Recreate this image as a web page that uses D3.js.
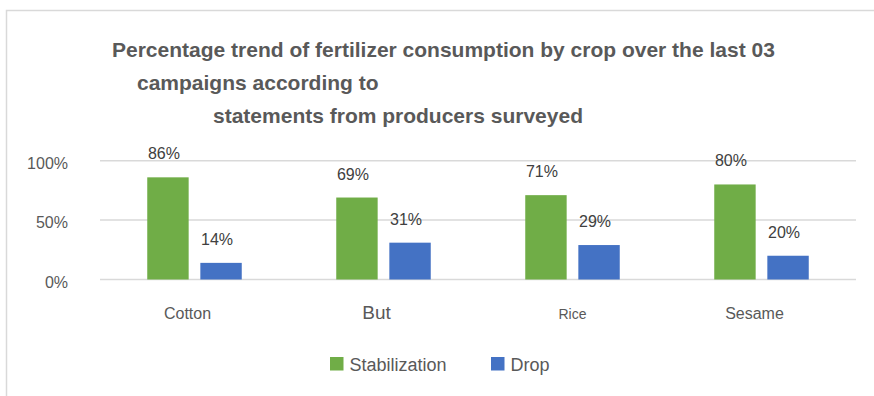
<!DOCTYPE html>
<html>
<head>
<meta charset="utf-8">
<script src="https://cdn.jsdelivr.net/npm/d3@7"></script>
<style>
  html, body { margin: 0; padding: 0; background: #fff; }
  svg { display: block; font-family: "Liberation Sans", Arial, sans-serif; }
</style>
</head>
<body>
<div id="chart"></div>
<script>
// chart values
var crops = ["Cotton", "But", "Rice", "Sesame"];
var seriesNames = ["Stabilization", "Drop"];
var stabilization = [86, 69, 71, 80];
var drop = [14, 31, 29, 20];
var yTicks = [0, 50, 100];
var titleLines = [
  "Percentage trend of fertilizer consumption by crop over the last 03",
  "campaigns according to",
  "statements from producers surveyed"
];

var width = 874, height = 396;
var colors = { "Stabilization": "#70ad47", "Drop": "#4472c4" };
// the source chart uses an uneven font size for each category label
var catSize = { "Cotton": 16, "But": 19, "Rice": 14, "Sesame": 16 };

var svg = d3.select("#chart").append("svg")
  .attr("width", width)
  .attr("height", height);

// chart area frame
svg.append("rect")
  .attr("x", 6.5).attr("y", 10.5)
  .attr("width", width + 10).attr("height", height + 10)
  .attr("fill", "#fff")
  .attr("stroke", "#d9d9d9")
  .attr("stroke-width", 1.5);

// title
var titleX = [112, 137, 213];
svg.append("g").selectAll("text")
  .data(titleLines)
  .enter().append("text")
    .attr("x", function(d, i) { return titleX[i]; })
    .attr("y", function(d, i) { return 56.5 + i * 33.2; })
    .attr("font-size", 21)
    .attr("font-weight", "bold")
    .attr("fill", "#595959")
    .text(function(d) { return d; });

var x0 = d3.scaleBand()
  .domain(crops)
  .range([100, 856])
  .paddingInner(0.5)
  .paddingOuter(0.25);

var x1 = d3.scaleBand()
  .domain(seriesNames)
  .range([0, x0.bandwidth()])
  .paddingInner(0.22);

var y = d3.scaleLinear()
  .domain([0, 100])
  .range([279.5, 160.7]);

// gridlines
svg.append("g").selectAll("line")
  .data(yTicks)
  .enter().append("line")
    .attr("x1", 100).attr("x2", 856)
    .attr("y1", function(d) { return y(d); })
    .attr("y2", function(d) { return y(d); })
    .attr("stroke", "#d9d9d9")
    .attr("stroke-width", 1.5);

// y tick labels
svg.append("g").selectAll("text")
  .data(yTicks)
  .enter().append("text")
    .attr("x", 68)
    .attr("y", function(d) { return y(d) + 8; })
    .attr("text-anchor", "end")
    .attr("font-size", 16)
    .attr("fill", "#595959")
    .text(function(d) { return d + "%"; });

var rows = crops.map(function(c, i) {
  return { crop: c, values: [
    { key: "Stabilization", value: stabilization[i] },
    { key: "Drop", value: drop[i] }
  ] };
});

var groups = svg.append("g").selectAll("g")
  .data(rows)
  .enter().append("g")
    .attr("transform", function(d) { return "translate(" + x0(d.crop) + ",0)"; });

groups.selectAll("rect")
  .data(function(d) { return d.values; })
  .enter().append("rect")
    .attr("x", function(d) { return x1(d.key); })
    .attr("y", function(d) { return y(d.value); })
    .attr("width", x1.bandwidth())
    .attr("height", function(d) { return y(0) - y(d.value); })
    .attr("fill", function(d) { return colors[d.key]; });

// value labels
groups.selectAll("text.val")
  .data(function(d) { return d.values; })
  .enter().append("text")
    .attr("class", "val")
    .attr("x", function(d) { return x1(d.key) + x1.bandwidth() / 2 - 4; })
    .attr("y", function(d) { return y(d.value) - 18; })
    .attr("text-anchor", "middle")
    .attr("font-size", 16)
    .attr("fill", "#404040")
    .text(function(d) { return d.value + "%"; });

// category labels
svg.append("g").selectAll("text")
  .data(crops)
  .enter().append("text")
    .attr("x", function(d) { return x0(d) + x0.bandwidth() / 2 - (d === "Rice" ? 0 : 7); })
    .attr("y", 318.5)
    .attr("text-anchor", "middle")
    .attr("font-size", function(d) { return catSize[d]; })
    .attr("fill", "#595959")
    .text(function(d) { return d; });

// legend
var legendX = [330, 491];
var legend = svg.append("g").selectAll("g")
  .data(seriesNames)
  .enter().append("g")
    .attr("transform", function(d, i) { return "translate(" + legendX[i] + ",357)"; });

legend.append("rect")
  .attr("width", 13.5).attr("height", 13.5)
  .attr("fill", function(d) { return colors[d]; });

legend.append("text")
  .attr("x", 19.5)
  .attr("y", 13.5)
  .attr("font-size", 18)
  .attr("fill", "#595959")
  .text(function(d) { return d; });
</script>
</body>
</html>
